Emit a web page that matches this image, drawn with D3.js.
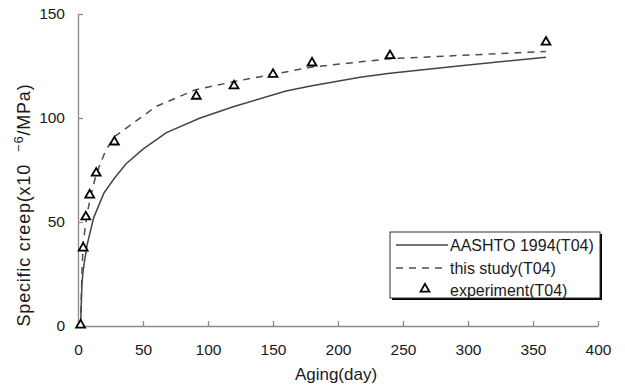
<!DOCTYPE html>
<html>
<head>
<meta charset="utf-8">
<script src="https://cdn.jsdelivr.net/npm/d3@7"></script>
<style>
  html, body { margin: 0; padding: 0; background: #fff; }
  svg { display: block; font-family: "Liberation Sans", Arial, sans-serif; }
</style>
</head>
<body>
<svg id="chart" width="625" height="388"></svg>
<script>
// Specific creep vs. aging time (specimen T04)
const xTicks = [0, 50, 100, 150, 200, 250, 300, 350, 400];
const yTicks = [0, 50, 100, 150];

// AASHTO 1994 model curve
const aashtoDays = [2, 3, 4, 7, 12, 20, 28, 37, 50, 68, 94, 120, 160, 180, 217, 240, 300, 360];
const aashtoVals = [0, 20, 27, 39, 52, 64, 71, 78, 85, 93, 100, 105.5, 113, 115.5, 119.6, 121.5, 125.5, 129.2];

// Proposed model curve
const studyDays = [2, 3, 4, 7, 10, 14, 21, 28, 60, 90, 120, 150, 180, 240, 360];
const studyVals = [0, 25, 40, 54, 63, 73, 84, 91, 105.5, 113.5, 117.5, 121, 124.5, 128.5, 132];

// Measured values
const expDays = [2, 4, 6, 9, 14, 28, 91, 120, 150, 180, 240, 360];
const expVals = [0, 37, 52, 62.5, 73, 88, 110, 115, 120.5, 126, 129.5, 136];

const svg = d3.select("#chart");
const x = d3.scaleLinear().domain([0, 400]).range([78, 598]);
const y = d3.scaleLinear().domain([0, 150]).range([326, 14]);

const axisColor = "#8a8a8a";
const textColor = "#1a1a1a";

// x axis
const gx = svg.append("g").attr("transform", `translate(0,${y(0)})`)
  .call(d3.axisBottom(x).tickValues(xTicks).tickSizeInner(-5).tickSizeOuter(0).tickPadding(18));
// y axis
const gy = svg.append("g").attr("transform", `translate(${x(0)},0)`)
  .call(d3.axisLeft(y).tickValues(yTicks).tickSizeInner(-5).tickSizeOuter(0).tickPadding(13));

[gx, gy].forEach(g => {
  g.select(".domain").attr("stroke", axisColor).attr("stroke-width", 1.3);
  g.selectAll(".tick line").attr("stroke", axisColor).attr("stroke-width", 1.3);
  g.selectAll(".tick text").attr("fill", textColor).style("font-size", "15.5px")
    .style("font-family", "'Liberation Sans', Arial, sans-serif");
});

// axis titles
svg.append("text")
  .attr("x", 336).attr("y", 380)
  .attr("text-anchor", "middle")
  .attr("fill", textColor).style("font-size", "17px")
  .text("Aging(day)");

const yt = svg.append("text")
  .attr("transform", `translate(30,205) rotate(-90)`)
  .attr("text-anchor", "middle")
  .attr("fill", textColor).style("font-size", "18px")
  .style("letter-spacing", "0.8px");
yt.append("tspan").text("Specific creep(x10");
yt.append("tspan").attr("dx", 12).attr("dy", -7).style("font-size", "13px").text("\u22126");
yt.append("tspan").attr("dy", 7).text("/MPa)");

// curves
const line = d3.line().x(d => x(d[0])).y(d => y(d[1]));
const aashto = aashtoDays.map((d, i) => [d, aashtoVals[i]]);
const study = studyDays.map((d, i) => [d, studyVals[i]]);
const exp = expDays.map((d, i) => [d, expVals[i]]);

svg.append("path").datum(aashto).attr("d", line)
  .attr("fill", "none").attr("stroke", "#444").attr("stroke-width", 1.5);
svg.append("path").datum(study).attr("d", line)
  .attr("fill", "none").attr("stroke", "#4d4d4d").attr("stroke-width", 1.5)
  .attr("stroke-dasharray", "7,6");

const tri = d3.symbol().type(d3.symbolTriangle).size(34);
svg.append("g").selectAll("path").data(exp).join("path")
  .attr("d", tri)
  .attr("transform", d => `translate(${x(d[0])},${y(d[1]) - 1})`)
  .attr("fill", "#fff").attr("stroke", "#000").attr("stroke-width", 1.8);

// legend
const lg = svg.append("g");
lg.append("rect").attr("x", 392).attr("y", 234).attr("width", 210).attr("height", 66).attr("fill", "#000");
lg.append("rect").attr("x", 390).attr("y", 232).attr("width", 210).attr("height", 66)
  .attr("fill", "#fff").attr("stroke", "#333").attr("stroke-width", 1);

const rows = [
  { label: "AASHTO 1994(T04)", kind: "solid", cy: 245 },
  { label: "this study(T04)", kind: "dash", cy: 268 },
  { label: "experiment(T04)", kind: "tri", cy: 290 }
];
rows.forEach(r => {
  if (r.kind === "solid") {
    lg.append("line").attr("x1", 396).attr("x2", 448).attr("y1", r.cy).attr("y2", r.cy)
      .attr("stroke", "#444").attr("stroke-width", 1.5);
  } else if (r.kind === "dash") {
    lg.append("line").attr("x1", 396).attr("x2", 448).attr("y1", r.cy).attr("y2", r.cy)
      .attr("stroke", "#4d4d4d").attr("stroke-width", 1.5).attr("stroke-dasharray", "7,6");
  } else {
    lg.append("path").attr("d", tri).attr("transform", `translate(425,${r.cy - 1})`)
      .attr("fill", "#fff").attr("stroke", "#000").attr("stroke-width", 1.8);
  }
  lg.append("text").attr("x", 450).attr("y", r.cy + 5.5)
    .attr("fill", textColor).style("font-size", "16px").text(r.label);
});
</script>
</body>
</html>
